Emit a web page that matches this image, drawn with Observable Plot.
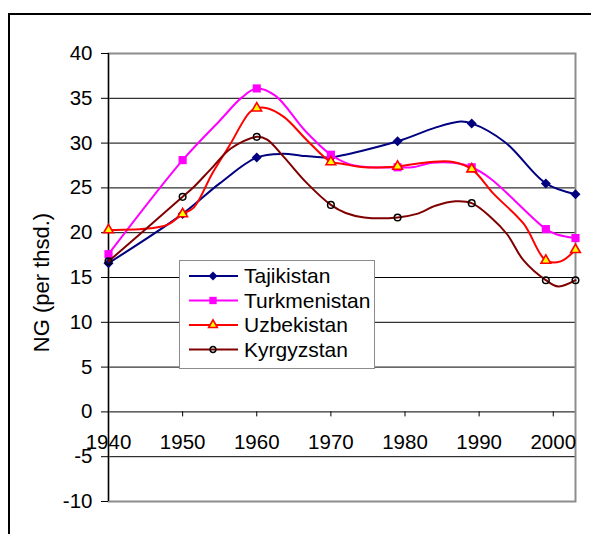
<!DOCTYPE html>
<html><head><meta charset="utf-8">
<script src="https://cdn.jsdelivr.net/npm/d3@7"></script>
<script src="https://cdn.jsdelivr.net/npm/@observablehq/plot@0.6"></script>
<style>
html,body{margin:0;padding:0;background:#fff;overflow:hidden;width:591px;height:534px;}
#wrap{position:relative;width:591px;height:534px;font-family:"Liberation Sans",Arial,sans-serif;}
#wrap svg{display:block;position:absolute;left:0;top:0;}
#outer{position:absolute;left:8px;top:13px;width:700px;height:700px;border-top:2px solid #000;border-left:2px solid #000;pointer-events:none;}
#legend{position:absolute;left:179px;top:260px;width:194px;height:107px;border:1.5px solid #8c8c8c;background:#fff;}
</style></head><body><div id="wrap"><div id="outer"></div></div>
<script>
// ---- data ----
const seriesNames = ["Tajikistan", "Turkmenistan", "Uzbekistan", "Kyrgyzstan"];
const markerYears = [1940, 1950, 1960, 1970, 1979, 1989, 1999, 2003];

const tajYears   = [1940, 1950, 1955, 1960, 1963.5, 1966, 1969, 1970, 1979, 1984, 1987.5, 1989, 1993.5, 1999, 2003];
const tajValues  = [16.6, 22.1, 25.5, 28.4, 28.8, 28.6, 28.4, 28.4, 30.2, 31.7, 32.4, 32.2, 30.1, 25.5, 24.3];

const turYears   = [1940, 1950, 1955, 1958, 1960, 1962.5, 1966.5, 1970, 1972.7, 1975.5, 1979, 1981, 1983.7, 1986.5, 1989, 1991.6, 1999, 2000.5, 2003];
const turValues  = [17.6, 28.1, 32.5, 35.1, 36.1, 35.3, 31.4, 28.7, 27.6, 27.3, 27.3, 27.3, 27.8, 27.8, 27.3, 26.0, 20.4, 19.8, 19.4];

const uzbYears   = [1940, 1945.7, 1948, 1950, 1951.5, 1954, 1956.3, 1959, 1960, 1961.4, 1963.7, 1966.8, 1970, 1971.5, 1974.5, 1979, 1983.5, 1986.5, 1989, 1992, 1996, 1999, 2001, 2003];
const uzbValues  = [20.3, 20.5, 20.9, 22.1, 22.8, 26.6, 29.7, 33.4, 33.9, 33.9, 32.9, 30.3, 27.9, 27.7, 27.3, 27.4, 27.9, 27.9, 27.1, 24.3, 21.0, 16.9, 16.8, 18.1];

const kyrYears   = [1940, 1950, 1951.5, 1953.8, 1956.5, 1960, 1961.4, 1963.7, 1966.8, 1970, 1972, 1974.5, 1979, 1981.6, 1984.1, 1986.8, 1989, 1991.6, 1993.8, 1996, 1999, 2000.7, 2003];
const kyrValues  = [16.8, 24.0, 25.1, 27.1, 29.4, 30.7, 30.4, 28.4, 25.5, 23.1, 22.2, 21.7, 21.7, 22.1, 23.0, 23.5, 23.3, 21.7, 19.8, 16.9, 14.7, 14.0, 14.7];

const yTicks = [-10, -5, 0, 5, 10, 15, 20, 25, 30, 35, 40];
const gridValues = [-5, 0, 5, 10, 15, 20, 25, 30, 35];
const xTicks = [1940, 1950, 1960, 1970, 1980, 1990, 2000];
const yLabel = "NG (per thsd.)";

// ---- styles ----
const styles = [
  {color: "#000080", symbol: "diamond2", r: 4.5, fill: "#000080", stroke: "none", sw: 0},
  {color: "#ff00ff", symbol: "square", r: 4.6, fill: "#ff00ff", stroke: "none", sw: 0},
  {color: "#ff0000", symbol: "triangle", r: 3.6, fill: "#ffff00", stroke: "#ff0000", sw: 1.6},
  {color: "#800000", symbol: "circle", r: 3.3, fill: "none", stroke: "#000000", sw: 1.5}
];

const seriesData = [
  [tajYears, tajValues], [turYears, turValues], [uzbYears, uzbValues], [kyrYears, kyrValues]
].map(([ys, vs], i) => ys.map((y, j) => ({name: seriesNames[i], year: y, value: vs[j]})));

const seriesMarks = seriesData.flatMap((rows, i) => {
  const s = styles[i];
  return [
    Plot.line(rows, {x: "year", y: "value", stroke: s.color, strokeWidth: 2, curve: "catmull-rom"}),
    Plot.dot(rows.filter(d => markerYears.includes(d.year)), {
      x: "year", y: "value", symbol: s.symbol, r: s.r, fill: s.fill, stroke: s.stroke, strokeWidth: s.sw
    })
  ];
});

const chart = Plot.plot({
  width: 591,
  height: 534,
  marginLeft: 108,
  marginRight: 16,
  marginTop: 53,
  marginBottom: 33,
  style: {fontFamily: "'Liberation Sans', Arial, sans-serif", fontSize: "20px", color: "black", background: "transparent", overflow: "visible"},
  x: {domain: [1940, 2003], axis: null},
  y: {domain: [-10, 40], axis: null},
  marks: [
    Plot.ruleY(gridValues, {stroke: "black", strokeWidth: 1}),
    Plot.frame({stroke: "#8c8c8c", strokeWidth: 2}),
    Plot.ruleX([1940], {stroke: "black", strokeWidth: 1.2}),
    Plot.axisY({ticks: yTicks, tickSize: 7, tickPadding: 9, label: null, tickFormat: d => String(d), fontSize: 20.5, stroke: "black"}),
    Plot.ruleX(xTicks.slice(1), {x: d => d, y1: 0, y2: 0, insetBottom: -5, stroke: "black", strokeWidth: 1}),
    Plot.text(xTicks, {x: d => d, y: 0, text: d => String(d), dy: 31, lineAnchor: "middle", fontSize: 20.5, fill: "black"}),
    Plot.text([yLabel], {frameAnchor: "left", text: d => d, rotate: -90, dx: -67, dy: 5, fontSize: 22, fill: "black", textAnchor: "middle", lineAnchor: "middle"}),
    ...seriesMarks
  ]
});
const wrap = document.getElementById("wrap");
wrap.insertBefore(chart, wrap.firstChild);

// ---- legend ----
const NS = "http://www.w3.org/2000/svg";
const legend = document.createElement("div");
legend.id = "legend";
const lsvg = document.createElementNS(NS, "svg");
lsvg.setAttribute("width", 194);
lsvg.setAttribute("height", 107);
const rowY = [15, 39.5, 64, 88.5];
seriesNames.forEach((name, i) => {
  const s = styles[i];
  const y = rowY[i];
  const ln = document.createElementNS(NS, "line");
  ln.setAttribute("x1", 9); ln.setAttribute("x2", 58);
  ln.setAttribute("y1", y); ln.setAttribute("y2", y);
  ln.setAttribute("stroke", s.color); ln.setAttribute("stroke-width", 2);
  lsvg.appendChild(ln);
  const sym = {diamond2: d3.symbolDiamond2, square: d3.symbolSquare, triangle: d3.symbolTriangle, circle: d3.symbolCircle}[s.symbol];
  const p = document.createElementNS(NS, "path");
  const rr = s.r * 0.9;
  p.setAttribute("d", d3.symbol(sym, Math.PI * rr * rr)());
  p.setAttribute("transform", `translate(33,${y})`);
  p.setAttribute("fill", s.fill);
  p.setAttribute("stroke", s.stroke);
  p.setAttribute("stroke-width", s.sw);
  lsvg.appendChild(p);
  const t = document.createElementNS(NS, "text");
  t.setAttribute("x", 64); t.setAttribute("y", y);
  t.setAttribute("dy", "0.35em");
  t.setAttribute("font-size", 21);
  t.setAttribute("font-family", "'Liberation Sans', Arial, sans-serif");
  t.textContent = name;
  lsvg.appendChild(t);
});
legend.appendChild(lsvg);
wrap.appendChild(legend);
</script>
</body></html>
